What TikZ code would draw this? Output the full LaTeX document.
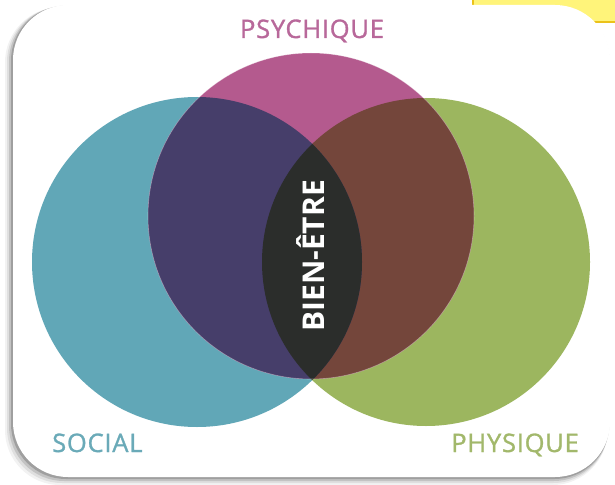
\documentclass[tikz,border=0pt]{standalone}
\usepackage{fontspec}
\newfontfamily\labelfont[LetterSpace=3,FakeBold=1.2]{Open Sans}
\newfontfamily\centrefont{Open Sans}
\usepackage{tikz}
\usetikzlibrary{positioning,calc}

\definecolor{socialc}{HTML}{61A7B7}
\definecolor{psychc}{HTML}{B45A8E}
\definecolor{physc}{HTML}{9CB65F}
\definecolor{purplec}{HTML}{463E6A}
\definecolor{brownc}{HTML}{74463B}
\definecolor{centrec}{HTML}{2B2D2B}
\definecolor{soclabel}{HTML}{6AAAB8}
\definecolor{psylabel}{HTML}{B8689A}
\definecolor{phylabel}{HTML}{A2B86B}
\definecolor{tabyellow}{HTML}{FFF47A}
\definecolor{taborange}{HTML}{EBC21A}

\begin{document}
\begin{tikzpicture}[x=1pt,y=-1pt,
  lbl/.style={inner sep=0pt,font=\labelfont\fontsize{25.5}{26}\selectfont},
  card/.style={rounded corners=55}]
\useasboundingbox (0,0) rectangle (615,484);
\fill[white] (0,0) rectangle (615,484);
% yellow tab behind the card
\filldraw[fill=tabyellow,draw=taborange,line width=1.2pt] (473,-3) rectangle (618,22);
% soft shadow
\foreach \d/\op in {8/0.05,6/0.08,4/0.12,2/0.18}
  \fill[black,opacity=\op,card] (13-\d,5+0.3*\d) rectangle (610-0.3*\d,477+\d);
\fill[white,card] (13,5) rectangle (610,477);

\coordinate (soc) at (197,262);
\coordinate (psy) at (311,216);
\coordinate (phy) at (426,262);

\fill[socialc] (soc) circle[radius=165];
\fill[physc] (phy) circle[radius=164];
\fill[psychc] (psy) circle[radius=163];
\begin{scope}
  \clip (phy) circle[radius=164];
  \fill[brownc] (psy) circle[radius=163];
\end{scope}
\begin{scope}
  \clip (soc) circle[radius=165];
  \fill[purplec] (psy) circle[radius=163];
  \fill[centrec] (phy) circle[radius=164];
\end{scope}
\draw[white,opacity=0.35,line width=0.6pt] (psy) circle[radius=163];

\node[lbl,text=psylabel,anchor=base] (psychique) at (312,38) {PSYCHIQUE};
\node[lbl,text=soclabel,anchor=base west] (social) at (52,452) {SOCIAL};
\node[lbl,text=phylabel,anchor=base east] (physique) at (579,452) {PHYSIQUE};
\node[inner sep=0pt,text=white,font=\centrefont\bfseries\fontsize{30}{30}\selectfont,
  rotate=90,anchor=base] (bienetre) at (324,256) {BIEN-ÊTRE};
\end{tikzpicture}
\end{document}
